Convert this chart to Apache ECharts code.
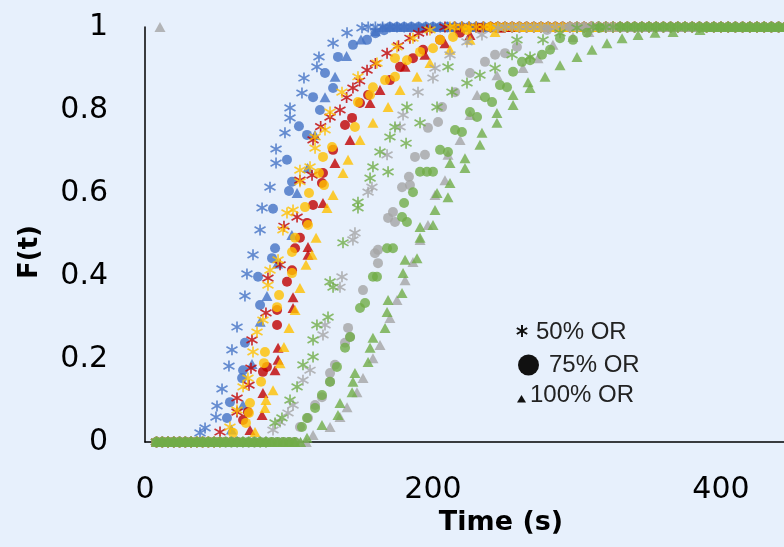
<!DOCTYPE html>
<html>
<head>
<meta charset="utf-8">
<script src="https://cdn.jsdelivr.net/npm/echarts@6/dist/echarts.min.js"></script>
<style>html,body{margin:0;padding:0;background:#E7F0FC;}#c{width:784px;height:547px;}</style>
</head>
<body>
<div id="c"></div>
<script>
// Tick labels
const xTicks = [0, 200, 400];
const yTicks = [0, 0.2, 0.4, 0.6, 0.8, 1];
const legendLabels = ['50% OR', '75% OR', '100% OR'];

// Times at which curves sit at F=0 (before rise) and F=1 (after plateau)
const zeroTimes = [8,12,16,20,24,28,32,36,40,44,48,52,56,60,64,68,72,76,80,84,88,92,96,100,104,108,112];
const oneTimes = [130,135,140,145,150,155,160,165,170,175,180,185,190,195,200,205,210,215,220,225,230,235,240,245,250,255,260,265,270,275,280,285,290,295,300,305,310,315,320,325,330,335,340,345,350,355,360,365,370,375,380,385,390,395,400,405,410,415,420,425,430,435,440,445,450,455,460,465,470,475,480,485,490,495,500];

// Rising parts [time, F(t)]
const blueStar = [[38.2,0.022],[41.7,0.034],[49.3,0.060],[50.0,0.087],[53.5,0.128],[58.3,0.183],[60.4,0.222],[63.9,0.277],[69.4,0.352],[70.8,0.405],[75.0,0.451],[79.9,0.511],[81.3,0.564],[86.8,0.614],[91.0,0.672],[91.0,0.706],[97.2,0.745],[100.7,0.781],[100.7,0.805],[109.0,0.841],[110.4,0.877],[119.4,0.904],[120.8,0.928],[130.6,0.961],[140.3,0.986],[150.7,0.998]];
const blueCircle = [[56.9,0.058],[59.0,0.096],[67.4,0.154],[68.1,0.173],[69.4,0.239],[79.9,0.330],[78.5,0.398],[88.2,0.443],[90.3,0.467],[88.9,0.562],[100.0,0.605],[102.1,0.627],[98.6,0.680],[106.9,0.761],[112.5,0.740],[116.7,0.831],[121.5,0.800],[125.0,0.889],[130.6,0.853],[134.0,0.928],[144.4,0.957],[154.2,0.969],[160.0,0.985],[166.0,0.992]];
const blueTri = [[60.0,0.030],[68.0,0.090],[74.3,0.188],[80.0,0.290],[84.7,0.352],[92.0,0.430],[102.0,0.499],[105.6,0.600],[113.0,0.660],[118.0,0.740],[125.0,0.831],[132.0,0.880],[140.0,0.930],[150.0,0.970],[160.0,0.990]];
const redStar = [[52.1,0.024],[63.9,0.072],[63.9,0.106],[72.2,0.137],[73.6,0.178],[74.3,0.246],[84.0,0.311],[85.4,0.395],[93.8,0.427],[96.5,0.520],[105.6,0.542],[107.6,0.631],[116.0,0.643],[116.7,0.728],[122.0,0.760],[128.5,0.783],[135.4,0.800],[140.0,0.830],[144.4,0.853],[149.0,0.870],[154.2,0.896],[160.0,0.912],[168.1,0.937],[176.0,0.955],[184.0,0.973],[190.0,0.985],[195.8,0.993],[208.3,1.0]];
const redCircle = [[68.1,0.053],[71.5,0.072],[81.9,0.169],[84.7,0.181],[91.7,0.282],[91.7,0.318],[98.6,0.386],[102.1,0.414],[104.2,0.467],[107.6,0.492],[112.5,0.528],[116.7,0.571],[122.9,0.624],[123.6,0.648],[130.6,0.704],[138.9,0.764],[143.8,0.781],[149.3,0.817],[154.9,0.836],[170.1,0.872],[177.1,0.904],[186.1,0.925],[193.1,0.945],[204.9,0.969],[218.8,0.986],[232.6,0.998]];
const redTri = [[72.9,0.029],[81.3,0.065],[81.9,0.118],[90.3,0.173],[92.4,0.198],[92.4,0.227],[102.8,0.323],[102.8,0.349],[113.2,0.451],[113.2,0.470],[123.6,0.576],[131.9,0.672],[142.4,0.728],[156.3,0.817],[163.2,0.848],[180.6,0.904],[194.4,0.933],[208.3,0.961],[225.7,0.981],[246.5,0.998]];
const yellowStar = [[59.0,0.036],[63.9,0.077],[68.1,0.133],[71.5,0.154],[75.0,0.217],[77.8,0.265],[81.9,0.294],[85.4,0.378],[86.8,0.414],[92.4,0.439],[95.8,0.511],[98.6,0.552],[102.8,0.559],[107.6,0.627],[107.6,0.655],[114.6,0.663],[118.1,0.708],[118.1,0.735],[125.0,0.752],[128.5,0.795],[136.8,0.843],[147.9,0.880],[161.1,0.913],[175.0,0.952],[186.1,0.973],[197.9,0.993],[211.8,1.0]];
const yellowCircle = [[61.1,0.022],[70.1,0.046],[72.2,0.070],[72.9,0.094],[80.6,0.145],[82.6,0.190],[83.3,0.217],[91.7,0.325],[93.1,0.354],[102.1,0.407],[102.1,0.458],[104.2,0.492],[111.1,0.566],[113.2,0.523],[113.9,0.600],[120.8,0.648],[124.3,0.619],[123.6,0.687],[129.9,0.711],[145.8,0.759],[147.9,0.819],[156.3,0.836],[158.3,0.855],[166.7,0.872],[173.6,0.880],[173.6,0.925],[181.9,0.920],[191.0,0.940],[200.0,0.949],[204.9,0.969],[213.9,0.976],[223.6,0.993],[239.6,1.0]];
const yellowTri = [[76.4,0.024],[83.3,0.082],[84.0,0.101],[88.9,0.125],[93.8,0.190],[96.5,0.229],[100.0,0.275],[104.2,0.318],[107.6,0.371],[111.8,0.427],[116.0,0.451],[118.8,0.492],[126.4,0.564],[130.6,0.595],[137.5,0.648],[141.0,0.680],[149.3,0.728],[158.3,0.769],[168.8,0.807],[177.1,0.848],[188.9,0.880],[197.9,0.913],[211.8,0.945],[225.7,0.969],[243.1,0.988],[260.4,1.0]];
const grayStar = [[88.9,0.029],[93.8,0.048],[99.3,0.070],[102.8,0.089],[109.7,0.149],[114.6,0.173],[123.6,0.258],[125.0,0.282],[135.4,0.373],[136.8,0.398],[144.4,0.487],[145.8,0.504],[154.9,0.602],[157.6,0.614],[168.1,0.692],[177.1,0.759],[179.2,0.788],[189.6,0.843],[200.0,0.877],[201.4,0.901],[211.8,0.933],[223.6,0.964],[234.0,0.981],[245.1,0.998]];
const grayCircle = [[107.6,0.036],[113.2,0.058],[118.1,0.089],[122.9,0.108],[128.5,0.145],[128.5,0.166],[131.9,0.186],[138.9,0.239],[141.0,0.275],[142.4,0.253],[151.4,0.366],[159.7,0.455],[161.8,0.463],[161.8,0.431],[168.8,0.540],[172.2,0.554],[173.6,0.530],[178.5,0.614],[183.3,0.639],[184.0,0.619],[187.5,0.687],[194.4,0.692],[196.5,0.757],[203.5,0.771],[206.3,0.807],[215.3,0.843],[225.7,0.889],[236.1,0.916],[243.1,0.933],[250.0,0.937],[258.3,0.952],[279.2,0.993],[295.1,1.0]];
const grayTriOutlier = [[10.4,1.0]];
const grayTri = [[116.7,0.017],[128.5,0.036],[135.4,0.060],[140.3,0.084],[147.2,0.120],[151.4,0.154],[158.3,0.202],[163.2,0.234],[170.1,0.299],[175.0,0.342],[180.6,0.390],[186.1,0.434],[191.0,0.487],[196.5,0.523],[201.4,0.595],[208.3,0.631],[210.4,0.692],[218.8,0.728],[225.7,0.788],[230.6,0.836],[244.4,0.884],[262.5,0.901],[272.9,0.925],[283.3,0.957],[297.2,0.976],[308.3,0.988],[322.2,1.0]];
const greenStar = [[90.3,0.046],[95.1,0.058],[100.7,0.101],[105.6,0.133],[109.7,0.186],[116.7,0.205],[116.7,0.246],[119.4,0.282],[127.1,0.301],[128.5,0.386],[130.6,0.373],[137.5,0.480],[147.9,0.564],[147.9,0.578],[156.3,0.636],[158.3,0.663],[163.2,0.699],[168.8,0.651],[170.1,0.735],[173.6,0.759],[181.3,0.720],[181.9,0.807],[191.0,0.769],[202.8,0.807],[210.4,0.904],[213.2,0.843],[223.6,0.865],[232.6,0.884],[243.1,0.901],[254.9,0.933],[258.3,0.969],[267.4,0.928],[276.4,0.969],[288.2,0.986],[300.0,0.998],[311.1,1.0]];
const greenCircle = [[109.0,0.036],[112.5,0.058],[118.1,0.082],[122.9,0.113],[128.5,0.145],[133.3,0.181],[138.9,0.227],[142.4,0.253],[149.3,0.323],[152.8,0.335],[158.3,0.398],[161.1,0.398],[168.1,0.467],[172.2,0.467],[178.5,0.542],[181.9,0.530],[179.9,0.576],[186.1,0.602],[191.0,0.651],[195.8,0.651],[200.0,0.651],[204.9,0.704],[210.4,0.699],[215.3,0.752],[220.1,0.747],[225.7,0.795],[230.6,0.783],[236.1,0.831],[241.0,0.819],[246.5,0.860],[251.4,0.855],[255.6,0.892],[261.8,0.916],[267.4,0.920],[275.7,0.933],[281.3,0.945],[288.2,0.973],[297.2,0.969],[306.9,0.986],[316.0,0.998],[329.9,1.0]];
const greenTri = [[112.5,0.010],[122.9,0.041],[134.0,0.065],[135.4,0.094],[143.8,0.120],[144.4,0.145],[145.8,0.166],[154.9,0.193],[156.3,0.227],[158.3,0.251],[166.7,0.275],[168.1,0.313],[168.8,0.342],[178.5,0.359],[179.2,0.407],[180.6,0.439],[188.9,0.443],[191.0,0.492],[191.0,0.518],[200.0,0.523],[201.4,0.559],[202.8,0.600],[210.4,0.590],[211.8,0.624],[211.8,0.672],[222.2,0.660],[222.2,0.684],[232.6,0.716],[234.0,0.745],[244.4,0.769],[244.4,0.793],[255.6,0.812],[255.6,0.836],[267.4,0.853],[266.0,0.867],[277.8,0.880],[288.2,0.908],[300.0,0.928],[310.4,0.945],[320.8,0.961],[331.3,0.973],[342.4,0.981],[354.2,0.986],[366.7,0.988],[385.4,0.993]];

const COLORS = {blue:'#4472C4', red:'#C00000', yellow:'#FFC000', gray:'#A5A5A5', green:'#70AD47'};
const STAR = 'path://M5,0L5,10M0.8,2.2L9.2,7.8M9.2,2.2L0.8,7.8';

function full(pts, extra) {
  const first = pts[0][0], last = pts[pts.length - 1][0];
  const zeros = zeroTimes.filter(t => t < first - 3).map(t => [t, 0]);
  const ones = oneTimes.filter(t => t > last + 3).map(t => [t, 1]);
  return (extra || []).concat(zeros, pts, ones);
}

function mk(name, color, marker, pts, extra) {
  const s = {name: name, type: 'scatter', data: full(pts, extra), animation: false, silent: true, clip: false};
  if (marker === 'star') {
    s.symbol = STAR; s.symbolSize = 11;
    s.itemStyle = {color: color, borderColor: color, borderWidth: 1.7};
  } else if (marker === 'circle') {
    s.symbol = 'circle'; s.symbolSize = 10;
    s.itemStyle = {color: color};
  } else {
    s.symbol = 'triangle'; s.symbolSize = [11, 10];
    s.itemStyle = {color: color};
  }
  return s;
}

const series = [
  mk('blue 50%', COLORS.blue, 'star', blueStar),
  mk('blue 75%', COLORS.blue, 'circle', blueCircle),
  mk('blue 100%', COLORS.blue, 'tri', blueTri),
  mk('red 50%', COLORS.red, 'star', redStar),
  mk('red 75%', COLORS.red, 'circle', redCircle),
  mk('red 100%', COLORS.red, 'tri', redTri),
  mk('yellow 50%', COLORS.yellow, 'star', yellowStar),
  mk('yellow 75%', COLORS.yellow, 'circle', yellowCircle),
  mk('yellow 100%', COLORS.yellow, 'tri', yellowTri),
  mk('gray 50%', COLORS.gray, 'star', grayStar),
  mk('gray 75%', COLORS.gray, 'circle', grayCircle),
  mk('gray 100%', COLORS.gray, 'tri', grayTri, grayTriOutlier),
  mk('green 50%', COLORS.green, 'star', greenStar),
  mk('green 75%', COLORS.green, 'circle', greenCircle),
  mk('green 100%', COLORS.green, 'tri', greenTri)
];

const chart = echarts.init(document.getElementById('c'), null, {renderer: 'canvas'});
const LBL = {fontFamily: 'DejaVu Sans', fontSize: 30, color: '#000'};
chart.setOption({
  backgroundColor: '#E7F0FC',
  animation: false,
  grid: {left: 145, top: 27, bottom: 105, right: 0, containLabel: false, outerBoundsMode: 'none'},
  xAxis: {
    type: 'value', min: 0, max: 443.75, interval: 200,
    name: 'Time (s)', nameLocation: 'middle', nameGap: 66,
    nameTextStyle: {fontFamily: 'DejaVu Sans', fontWeight: 'bold', fontSize: 27, color: '#000', padding: [0, 0, 0, 73]},
    axisLine: {show: true, lineStyle: {color: '#000', width: 1.5}},
    axisTick: {show: false}, splitLine: {show: false},
    axisLabel: Object.assign({margin: 33, showMaxLabel: false, formatter: v => (xTicks.indexOf(v) >= 0 ? String(v) : '')}, LBL)
  },
  yAxis: {
    type: 'value', min: 0, max: 1, interval: 0.2,
    axisLine: {show: true, lineStyle: {color: '#000', width: 1.5}},
    axisTick: {show: false}, splitLine: {show: false},
    axisLabel: Object.assign({margin: 37, formatter: v => {
      const m = yTicks.find(t => Math.abs(t - v) < 1e-9);
      return m === undefined ? '' : String(m);
    }}, LBL)
  },
  graphic: [
    {type: 'text', x: 30, y: 252, rotation: Math.PI / 2,
     style: {text: 'F(t)', font: 'bold 26px "DejaVu Sans"', fill: '#000', align: 'center', verticalAlign: 'middle'}},
    {type: 'group', children: [
      {type: 'line', shape: {x1: 522, y1: 325, x2: 522, y2: 337}, style: {stroke: '#111', lineWidth: 2}},
      {type: 'line', shape: {x1: 516.8, y1: 328, x2: 527.2, y2: 334}, style: {stroke: '#111', lineWidth: 2}},
      {type: 'line', shape: {x1: 516.8, y1: 334, x2: 527.2, y2: 328}, style: {stroke: '#111', lineWidth: 2}},
      {type: 'text', x: 536, y: 332, style: {text: legendLabels[0], font: '24px "Liberation Sans"', fill: '#222', align: 'left', verticalAlign: 'middle'}},
      {type: 'circle', shape: {cx: 528.5, cy: 365, r: 10.5}, style: {fill: '#111'}},
      {type: 'text', x: 549, y: 365, style: {text: legendLabels[1], font: '24px "Liberation Sans"', fill: '#222', align: 'left', verticalAlign: 'middle'}},
      {type: 'polygon', shape: {points: [[517, 402.5], [526, 402.5], [521.5, 395]]}, style: {fill: '#111'}},
      {type: 'text', x: 530, y: 395, style: {text: legendLabels[2], font: '24px "Liberation Sans"', fill: '#222', align: 'left', verticalAlign: 'middle'}}
    ]}
  ],
  series: series
});
</script>
</body>
</html>
